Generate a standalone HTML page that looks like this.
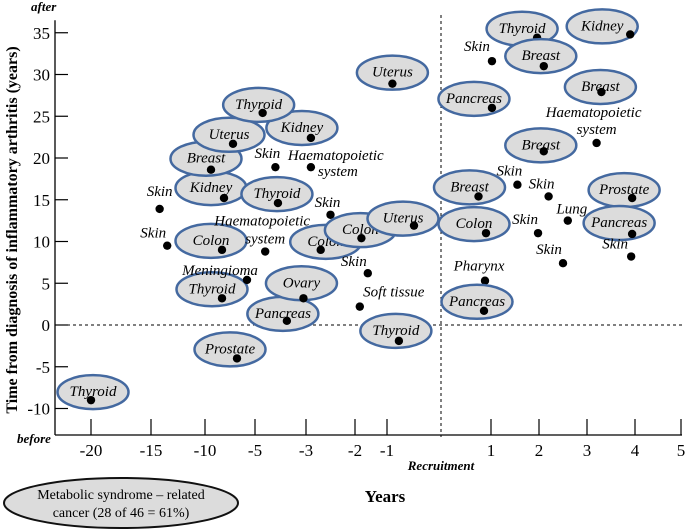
<!DOCTYPE html>
<html><head><meta charset="utf-8"><style>
body{margin:0;background:#fff;}
svg{display:block;font-family:"Liberation Serif",serif;}
</style></head><body>
<svg id="chart" width="685" height="530" xmlns="http://www.w3.org/2000/svg">
<g id="axes"></g><g id="marks"></g>
</svg>
<script>
const xTicks=[-20,-15,-10,-5,-3,-2,-1,0,1,2,3,4,5];
const xTickLabels=["-20","-15","-10","-5","-3","-2","-1","","1","2","3","4","5"];
const yTicks=[-10,-5,0,5,10,15,20,25,30,35];
const names=["Thyroid","Prostate","Pancreas","Ovary","Thyroid","Meningioma","Colon","Haematopoietic|system","Skin","Skin","Kidney","Thyroid","Breast","Uterus","Skin","Haematopoietic|system","Kidney","Thyroid","Colon","Skin","Colon","Uterus","Skin","Soft tissue","Thyroid","Uterus",
"Thyroid","Kidney","Skin","Breast","Pancreas","Breast","Haematopoietic|system","Breast","Skin","Breast","Skin","Prostate","Lung","Colon","Skin","Pancreas","Skin","Skin","Pharynx","Pancreas"];
const xVals=[-20,-6.8,-3.75,-3.1,-8.3,-5.8,-8.3,-4.6,-13.5,-14.2,-8.1,-4.1,-9.4,-7.2,-4.2,-2.9,-2.9,-4.7,-2.7,-2.5,-1.8,-0.5,-1.6,-1.85,-0.78,-0.9,
1.96,3.9,1.02,2.1,1.02,3.3,3.2,2.1,1.55,0.75,2.2,3.94,2.6,0.9,1.98,3.94,2.5,3.92,0.88,0.86];
const yVals=[-9,-4,0.5,3.2,3.2,5.4,9,8.8,9.5,13.9,15.2,14.6,18.6,21.7,18.9,18.9,22.4,25.4,9,13.2,10.4,11.9,6.2,2.2,-1.9,28.9,
34.4,34.8,31.6,31,26,27.9,21.8,20.8,16.8,15.4,15.4,15.2,12.5,11,11,10.9,7.4,8.2,5.3,1.7];
const circled=[1,1,1,1,1,0,1,0,0,0,1,1,1,1,0,0,1,1,1,0,1,1,0,0,1,1, 1,1,0,1,1,1,0,1,0,1,0,1,0,1,0,1,0,0,0,1];
// layout offsets (pixels, not data): ellipse centre or label offsets relative to dot
const layout=[[2,-8],[-7,-9],[-4,-7],[-2,-15],[-10,-9],[-27,-5],[-11,-9],[-3,-26,0,-8],[-14,-8],[0,-13],[-13,-10],[-1,-9],[-5,-11],[-4,-9],[-8,-9],[-23,-7,7,9,'s'],[-9,-10],[-4,-8],[5,-8],[-3,-8],[-1,-8],[-11,-7],[-14,-7],[34,-10],[-3,-10],[0,-11],
[-15,-9],[-28,-8],[-15,-10],[-3,-10],[-18,-9],[-1,-5],[-3,-26,0,-9],[-3,-6],[-8,-9],[-9,-9],[-7,-8],[-8,-8],[4,-7],[-12,-9],[-13,-9],[-13,-11],[-14,-9],[-16,-8],[-6,-10],[-7,-9]];
const xAnchorPx=[91,151,205,255,306,355,387,441,491,539,587,635,681];
function xs(v){for(let i=0;i<xTicks.length-1;i++){if(v<=xTicks[i+1]||i==xTicks.length-2){const t=(v-xTicks[i])/(xTicks[i+1]-xTicks[i]);return xAnchorPx[i]+t*(xAnchorPx[i+1]-xAnchorPx[i]);}}}
function ys(v){return 325-v*8.35;}
const NS="http://www.w3.org/2000/svg";
function mk(tag,attrs,parent,txt){const e=document.createElementNS(NS,tag);for(const k in attrs)e.setAttribute(k,attrs[k]);if(txt!==undefined)e.textContent=txt;parent.appendChild(e);return e;}
const ax=document.getElementById('axes'),mg=document.getElementById('marks');
let e;
e=mk('line',{x1:55,y1:ys(36.5),x2:55,y2:435,stroke:'#000','stroke-width':1.3},ax);


e=mk('line',{x1:55,y1:435,x2:682,y2:435,stroke:'#000','stroke-width':1.3},ax);


yTicks.forEach(v=>{
 mk('line',{x1:55,y1:ys(v),x2:68,y2:ys(v),stroke:'#000','stroke-width':1.2},ax);
 e=mk('text',{x:50,y:ys(v)+6,'text-anchor':'end','font-size':17},ax,String(v));
 
 
});
xTicks.forEach((v,i)=>{
 if(v!==0)mk('line',{x1:xs(v),y1:435,x2:xs(v),y2:419,stroke:'#000','stroke-width':1.2},ax);
 e=mk('text',{x:xs(v),y:456,'text-anchor':'middle','font-size':17},ax,xTickLabels[i]);
 
 
});
e=mk('line',{x1:xs(0),y1:15,x2:xs(0),y2:437,stroke:'#000','stroke-width':1,'stroke-dasharray':'3,3'},ax);


e=mk('line',{x1:55,y1:ys(0),x2:682,y2:ys(0),stroke:'#000','stroke-width':1,'stroke-dasharray':'3,3'},ax);



names.forEach((n,i)=>{
 const px=xs(xVals[i]),py=ys(yVals[i]),L=layout[i];
 const g=mk('g',{},mg);
 
 
 if(circled[i]){
  const cx=px+L[0],cy=py+L[1];
  mk('ellipse',{cx:cx,cy:cy,rx:35.5,ry:17,fill:'#dcdcdc',stroke:'#4469a0','stroke-width':2.5},g);
  mk('text',{x:cx,y:cy+4,'text-anchor':'middle','font-size':15,'font-style':'italic'},g,n);
 } else {
  const parts=n.split('|');
  if(parts.length==1){
   mk('text',{x:px+L[0],y:py+L[1],'text-anchor':'middle','font-size':15,'font-style':'italic'},g,n);
  } else {
   const anc=L[4]==='s'?'start':'middle';
   mk('text',{x:px+L[0],y:py+L[1],'text-anchor':anc,'font-size':15,'font-style':'italic'},g,parts[0]);
   mk('text',{x:px+L[2],y:py+L[3],'text-anchor':anc,'font-size':15,'font-style':'italic'},g,parts[1]);
  }
 }
 mk('circle',{cx:px,cy:py,r:4.2,fill:'#000'},g);
});
</script>
<svg style="position:absolute;left:0;top:0" width="685" height="530">
<text transform="translate(17,230) rotate(-90)" text-anchor="middle" font-size="16" font-weight="bold" font-family="Liberation Serif,serif">Time from diagnosis of inflammatory arthritis (years)</text>
<text x="31" y="11" font-size="13" font-weight="bold" font-style="italic" font-family="Liberation Serif,serif">after</text>
<text x="17" y="443" font-size="13" font-weight="bold" font-style="italic" font-family="Liberation Serif,serif">before</text>
<text x="441" y="470" text-anchor="middle" font-size="13" font-weight="bold" font-style="italic" font-family="Liberation Serif,serif">Recruitment</text>
<text x="385" y="502" text-anchor="middle" font-size="17" font-weight="bold" font-family="Liberation Serif,serif">Years</text>
<g>
<ellipse cx="121" cy="503" rx="117" ry="25" fill="#dcdcdc" stroke="#111" stroke-width="2"/>
<text x="121" y="499" text-anchor="middle" font-size="14" font-family="Liberation Serif,serif">Metabolic syndrome – related</text>
<text x="121" y="517" text-anchor="middle" font-size="14" font-family="Liberation Serif,serif">cancer (28 of 46 = 61%)</text>
</g>
</svg>
</body></html>
